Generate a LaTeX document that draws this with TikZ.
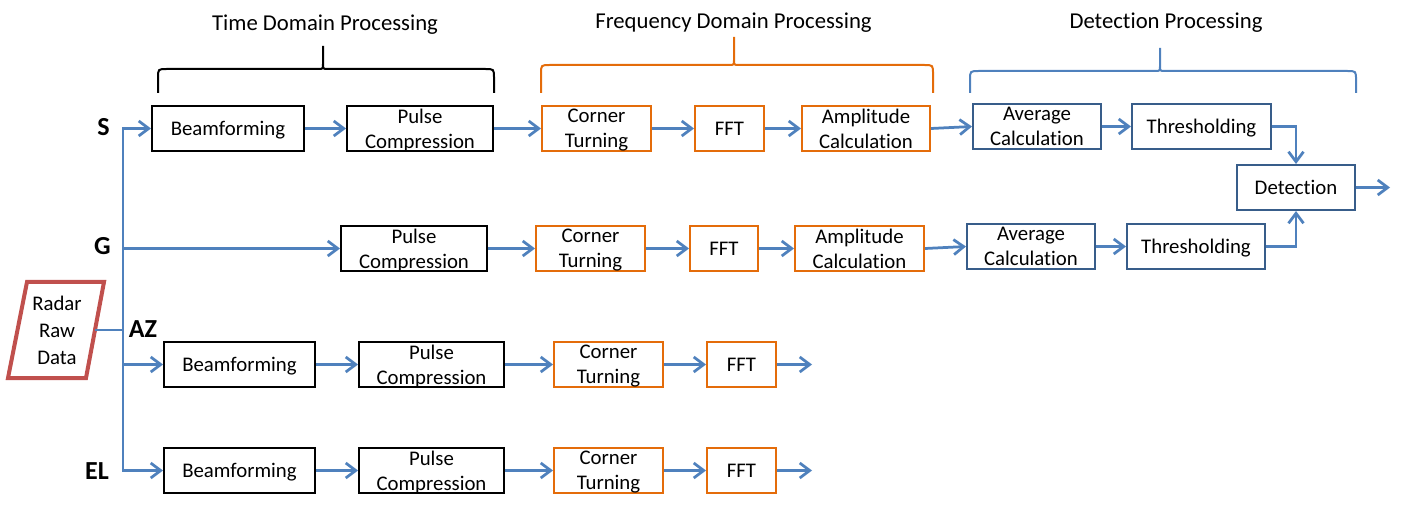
\documentclass[tikz,border=0pt]{standalone}
\usepackage{fontspec}
\setmainfont{Carlito}[Ligatures={NoCommon}]
\usetikzlibrary{arrows.meta}
\definecolor{lblue}{HTML}{4F81BD}
\definecolor{dblue}{HTML}{385D8A}
\definecolor{orng}{HTML}{E46C0A}
\definecolor{rred}{HTML}{C0504D}
\begin{document}
\begin{tikzpicture}[x=1pt,y=-1pt,
  box/.style={draw, line width=2pt, minimum height=45pt, inner sep=0pt, align=center, text depth=0pt, font=\fontsize{20.8}{25}\selectfont},
  tdbox/.style={box, draw=black},
  fdbox/.style={box, draw=orng},
  dpbox/.style={box, draw=dblue},
  tipb/.tip={Straight Barb[length=10pt,width=15pt]},
  flow/.style={draw=lblue, line width=2.75pt, -tipb},
  bus/.style={draw=lblue, line width=2.75pt},
  lbl/.style={font=\fontsize{26}{30}\selectfont\bfseries, inner sep=0pt},
  ttl/.style={font=\fontsize{22.7}{26}\selectfont, inner sep=0pt, anchor=base},
  brace/.style={line width=2pt}]
\useasboundingbox (0,0) rectangle (1407,510);

% titles
\node[ttl] (tTime) at (325,31) {Time Domain Processing};
\node[ttl] (tFreq) at (733.5,29) {Frequency Domain Processing};
\node[ttl] (tDet) at (1166,29) {Detection Processing};

% braces
\draw[brace, black] (158,93) -- (158,78) .. controls (158,69) .. (167,69) -- (318,69) .. controls (323,69) .. (323,64) -- (323,46)
  -- (323,64) .. controls (323,69) .. (328,69) -- (485,69) .. controls (494,69) .. (494,78) -- (494,93);
\draw[brace, orng] (541,93) -- (541,74) .. controls (541,65) .. (550,65) -- (729,65) .. controls (734,65) .. (734,60) -- (734,37)
  -- (734,60) .. controls (734,65) .. (739,65) -- (924,65) .. controls (933,65) .. (933,74) -- (933,93);
\draw[brace, lblue] (970,93) -- (970,80) .. controls (970,71) .. (979,71) -- (1155,71) .. controls (1160,71) .. (1160,66) -- (1160,48)
  -- (1160,66) .. controls (1160,71) .. (1165,71) -- (1347,71) .. controls (1356,71) .. (1356,80) -- (1356,93);

% radar raw data
\draw[rred, line width=4pt, line join=miter] (27,282) -- (104,282) -- (86,378) -- (8,378) -- cycle;
\node[font=\fontsize{20.8}{27}\selectfont, align=center, inner sep=0pt] (raw) at (57,330) {Radar\\Raw\\Data};
\coordinate (rawout) at (95,330);

% labels
\node[lbl] (lS) at (103.5,127) {S};
\node[lbl] (lG) at (102.5,246) {G};
\node[lbl] (lAZ) at (143,329) {AZ};
\node[lbl] (lEL) at (97,471) {EL};

% row S
\node[tdbox, minimum width=152pt] (bfS) at (228,128.5) {Beamforming};
\node[tdbox, minimum width=146pt] (puS) at (420,128.5) {Pulse\\Compression};
\node[fdbox, minimum width=109pt] (ctS) at (596.5,128.5) {Corner\\Turning};
\node[fdbox, minimum width=69pt] (fftS) at (729.5,128.5) {FFT};
\node[fdbox, minimum width=128pt] (amS) at (866,128.5) {Amplitude\\Calculation};
\node[dpbox, minimum width=128pt] (avS) at (1037,126.5) {Average\\Calculation};
\node[dpbox, minimum width=139pt] (thS) at (1201.5,126.5) {Thresholding};

% detection
\node[dpbox, minimum width=118pt] (det) at (1296,187.5) {Detection};
\coordinate (detout) at (1390,187.5);

% row G
\node[tdbox, minimum width=146pt] (puG) at (414,248.5) {Pulse\\Compression};
\node[fdbox, minimum width=109pt] (ctG) at (590.5,248.5) {Corner\\Turning};
\node[fdbox, minimum width=68pt] (fftG) at (724,248.5) {FFT};
\node[fdbox, minimum width=129pt] (amG) at (859.5,248.5) {Amplitude\\Calculation};
\node[dpbox, minimum width=128pt] (avG) at (1031,246.5) {Average\\Calculation};
\node[dpbox, minimum width=138pt] (thG) at (1196,246.5) {Thresholding};

% row AZ
\node[tdbox, minimum width=151pt] (bfAZ) at (239.5,364.5) {Beamforming};
\node[tdbox, minimum width=145pt] (puAZ) at (431.5,364.5) {Pulse\\Compression};
\node[fdbox, minimum width=109pt] (ctAZ) at (608.5,364.5) {Corner\\Turning};
\node[fdbox, minimum width=69pt] (fftAZ) at (741.5,364.5) {FFT};
\coordinate (outAZ) at (812,364.5);

% row EL
\node[tdbox, minimum width=151pt] (bfEL) at (239.5,470.5) {Beamforming};
\node[tdbox, minimum width=145pt] (puEL) at (431.5,470.5) {Pulse\\Compression};
\node[fdbox, minimum width=109pt] (ctEL) at (608.5,470.5) {Corner\\Turning};
\node[fdbox, minimum width=69pt] (fftEL) at (741.5,470.5) {FFT};
\coordinate (outEL) at (812,470.5);

% bus
\coordinate (busS) at (123,128.5);
\coordinate (busG) at (123,248.5);
\coordinate (busRaw) at (123,330);
\coordinate (busAZ) at (123,364.5);
\coordinate (busEL) at (123,470.5);
\draw[bus, tipb-tipb, line join=miter] (bfS.west) -- (busS) -- (busEL) -- (bfEL.west);
\draw[flow] (busG) -- (puG.west);
\draw[flow] (busAZ) -- (bfAZ.west);
\draw[bus] (rawout) -- (busRaw);

% connectors
\draw[flow] (bfS) -- (puS);
\draw[flow] (puS) -- (ctS);
\draw[flow] (ctS) -- (fftS);
\draw[flow] (fftS) -- (amS);
\draw[flow] (amS.east) -- (avS.west);
\draw[flow] (avS) -- (thS);
\draw[flow] (thS.east) -| (det.north);
\draw[flow] (det) -- (detout);

\draw[flow] (puG) -- (ctG);
\draw[flow] (ctG) -- (fftG);
\draw[flow] (fftG) -- (amG);
\draw[flow] (amG.east) -- (avG.west);
\draw[flow] (avG) -- (thG);
\draw[flow] (thG.east) -| (det.south);

\draw[flow] (bfAZ) -- (puAZ);
\draw[flow] (puAZ) -- (ctAZ);
\draw[flow] (ctAZ) -- (fftAZ);
\draw[flow] (fftAZ) -- (outAZ);

\draw[flow] (bfEL) -- (puEL);
\draw[flow] (puEL) -- (ctEL);
\draw[flow] (ctEL) -- (fftEL);
\draw[flow] (fftEL) -- (outEL);
\end{tikzpicture}
\end{document}
